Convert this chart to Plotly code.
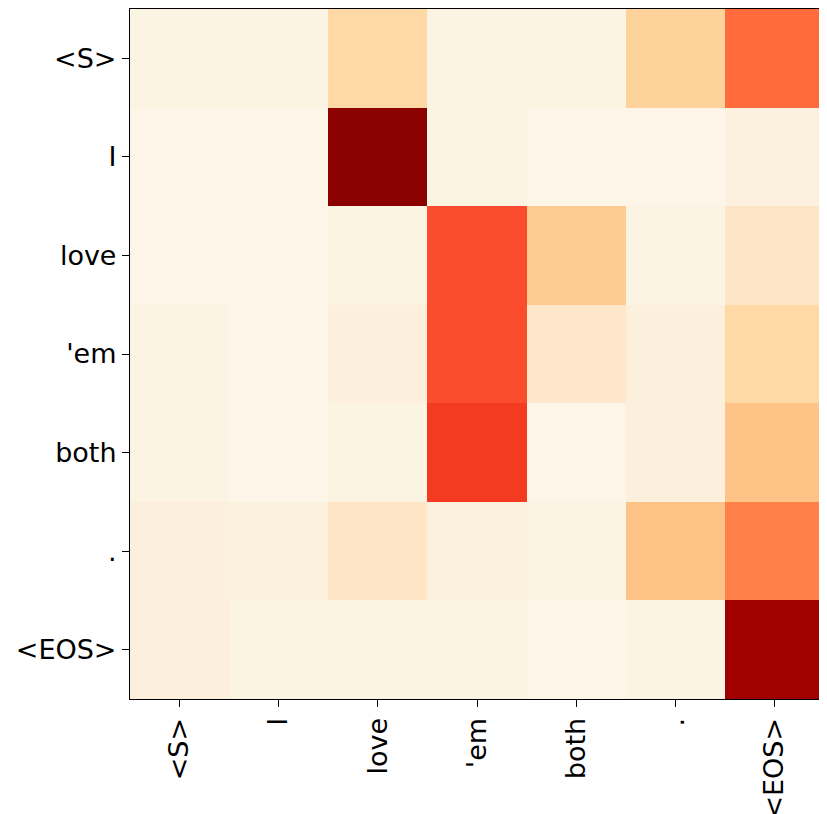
import plotly.graph_objects as go

tokens_x = ["&lt;S&gt;", "I", "love", "'em", "both", ".", "&lt;EOS&gt;"]
tokens_y = ["&lt;S&gt;", "I", "love", "'em", "both", ".", "&lt;EOS&gt;"]

row_s = [0.04, 0.04, 0.18, 0.04, 0.04, 0.20, 0.45]
row_i = [0.01, 0.01, 1.00, 0.04, 0.01, 0.01, 0.06]
row_love = [0.01, 0.01, 0.04, 0.55, 0.22, 0.04, 0.12]
row_em = [0.04, 0.01, 0.07, 0.55, 0.11, 0.07, 0.18]
row_both = [0.04, 0.01, 0.04, 0.60, 0.01, 0.07, 0.26]
row_dot = [0.07, 0.06, 0.12, 0.06, 0.04, 0.26, 0.40]
row_eos = [0.07, 0.04, 0.04, 0.04, 0.01, 0.04, 0.85]

z = [row_s, row_i, row_love, row_em, row_both, row_dot, row_eos]

colorscale = [
    [0.00, "#fff5eb"],
    [0.04, "#fcf4e2"],
    [0.07, "#fcefdc"],
    [0.12, "#fee5c5"],
    [0.18, "#fed8a5"],
    [0.22, "#fecb91"],
    [0.26, "#fec487"],
    [0.40, "#ff8048"],
    [0.45, "#ff6b3d"],
    [0.55, "#fb4d2d"],
    [0.60, "#f43a20"],
    [0.85, "#a00000"],
    [1.00, "#8b0000"],
]

idx = list(range(len(tokens_x)))

fig = go.Figure(go.Heatmap(
    z=z, x=idx, y=idx,
    colorscale=colorscale, zmin=0, zmax=1,
    showscale=False, xgap=0, ygap=0,
))

font = dict(family="DejaVu Sans", size=27, color="#000000")

fig.update_layout(
    width=827, height=814,
    margin=dict(l=122, r=11, t=1, b=123),
    paper_bgcolor="white", plot_bgcolor="white",
    font=font,
)
fig.update_xaxes(
    tickmode="array", tickvals=idx, ticktext=tokens_x, automargin=False,
    tickangle=-90, ticks="outside", ticklen=7, tickwidth=1.2, tickcolor="#000",
    showline=True, linecolor="#000", linewidth=1.2, mirror=True,
    showgrid=False, zeroline=False, range=[-0.5, 6.5], tickfont=font,
)
fig.update_yaxes(
    tickmode="array", tickvals=idx, ticktext=tokens_y, automargin=False,
    ticks="outside", ticklen=7, tickwidth=1.2, tickcolor="#000",
    showline=True, linecolor="#000", linewidth=1.2, mirror=True,
    showgrid=False, zeroline=False, range=[6.5, -0.5], tickfont=font,
)

fig.write_html("out.html")
